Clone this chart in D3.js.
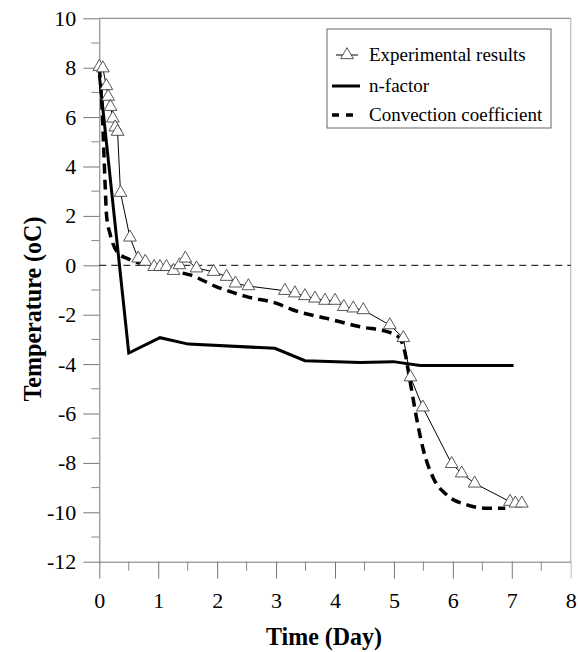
<!DOCTYPE html>
<html>
<head>
<meta charset="utf-8">
<script src="https://cdn.jsdelivr.net/npm/d3@7"></script>
<style>
  body { margin: 0; background: #fff; }
  text { font-family: "Liberation Serif", "Times New Roman", serif; fill: #000; }
</style>
</head>
<body>
<div id="chart"></div>
<script>
// data: day, temperature
var expDays  = [0, 0.06, 0.12, 0.15, 0.19, 0.23, 0.27, 0.31, 0.36, 0.52, 0.66, 0.78, 0.93, 1.03, 1.14, 1.26, 1.36, 1.46,
                1.65, 1.94, 2.16, 2.31, 2.53, 3.15, 3.32, 3.49, 3.66, 3.83, 4.0, 4.15, 4.31, 4.48, 4.93, 5.16, 5.28,
                5.49, 5.98, 6.15, 6.37, 6.97, 7.06, 7.17];
var expTemps = [8.04, 7.98, 7.26, 6.83, 6.42, 5.95, 5.59, 5.41, 2.94, 1.13, 0.28, 0.15, -0.06, -0.06, -0.06, -0.22, 0.01, 0.28,
                -0.12, -0.26, -0.46, -0.73, -0.84, -1.03, -1.13, -1.24, -1.34, -1.43, -1.43, -1.68, -1.74, -1.81, -2.42, -2.94, -4.53,
                -5.75, -8.04, -8.42, -8.83, -9.57, -9.64, -9.64];

var nfDays  = [0, 0.5, 1.03, 1.51, 2.98, 3.49, 4.43, 4.99, 5.44, 7.03];
var nfTemps = [7.7, -3.55, -2.93, -3.19, -3.36, -3.86, -3.94, -3.9, -4.06, -4.06];

var ccDays  = [0, 0.04, 0.07, 0.1, 0.125, 0.18, 0.32, 0.47, 0.69, 1.03, 1.31, 1.54, 1.99, 2.5, 3.01, 3.29, 3.86, 4.43,
               4.94, 5.1, 5.19, 5.25, 5.3, 5.39, 5.5, 5.67, 5.9, 6.24, 6.58, 6.89];
var ccTemps = [8.0, 6.7, 5.07, 3.18, 1.97, 1.3, 0.49, 0.28, 0.08, -0.06, -0.26, -0.39, -0.87, -1.27, -1.54, -1.81, -2.15, -2.49,
               -2.73, -2.96, -3.56, -4.37, -5.05, -6.26, -7.48, -8.62, -9.3, -9.7, -9.84, -9.84];

var xTicks = [0, 1, 2, 3, 4, 5, 6, 7, 8];
var yTicks = [-12, -10, -8, -6, -4, -2, 0, 2, 4, 6, 8, 10];
var legendLabels = ["Experimental results", "n-factor", "Convection coefficient"];

function zip(a, b) { return a.map(function(d, i) { return [d, b[i]]; }); }
var expData = zip(expDays, expTemps),
    nfData = zip(nfDays, nfTemps),
    ccData = zip(ccDays, ccTemps);

var margin = {top: 18.3, right: 7.3, bottom: 90.3, left: 99.3},
    width = 578 - margin.left - margin.right,
    height = 652 - margin.top - margin.bottom;

var svg = d3.select("#chart")
  .append("svg")
    .attr("width", 578)
    .attr("height", 652)
  .append("g")
    .attr("transform", "translate(" + margin.left + "," + margin.top + ")");

var x = d3.scaleLinear().domain([0, 8]).range([0, width]);
var y = d3.scaleLinear().domain([-12, 10]).range([height, 0]);

// frame (top and right)
svg.append("line").attr("x1", 0).attr("x2", width).attr("y1", 0).attr("y2", 0)
  .attr("stroke", "#777").attr("stroke-width", 1);
svg.append("line").attr("x1", width).attr("x2", width).attr("y1", 0).attr("y2", height)
  .attr("stroke", "#bbb").attr("stroke-width", 1.2);

// minor ticks
svg.append("g").selectAll("line")
  .data(d3.range(-11, 10, 2))
  .enter().append("line")
    .attr("x1", -8).attr("x2", 0)
    .attr("y1", function(d) { return y(d); }).attr("y2", function(d) { return y(d); })
    .attr("stroke", "#888");
svg.append("g").selectAll("line")
  .data(d3.range(0.5, 8, 1))
  .enter().append("line")
    .attr("x1", function(d) { return x(d); }).attr("x2", function(d) { return x(d); })
    .attr("y1", height).attr("y2", height + 9)
    .attr("stroke", "#888");

// axes
var fmt = function(d) { return String(d); };
var xAxis = svg.append("g")
  .attr("transform", "translate(0," + height + ")")
  .call(d3.axisBottom(x).tickValues(xTicks).tickFormat(fmt).tickSize(17).tickPadding(14).tickSizeOuter(0));
var yAxis = svg.append("g")
  .call(d3.axisLeft(y).tickValues(yTicks).tickFormat(fmt).tickSize(16).tickPadding(7).tickSizeOuter(0));
[xAxis, yAxis].forEach(function(a) {
  a.select(".domain").attr("stroke", "#777");
  a.selectAll(".tick line").attr("stroke", "#777");
  a.selectAll("text").attr("font-size", 22).attr("fill", "#000");
});
xAxis.selectAll(".tick").filter(function(d) { return d === 8; }).select("line").attr("stroke", "#bbb");

// zero line
svg.append("line")
  .attr("x1", x(0)).attr("x2", x(8))
  .attr("y1", y(0)).attr("y2", y(0))
  .attr("stroke", "#000").attr("stroke-width", 1)
  .attr("stroke-dasharray", "7,5");

var line = d3.line()
  .x(function(d) { return x(d[0]); })
  .y(function(d) { return y(d[1]); });

// n-factor
svg.append("path").datum(nfData)
  .attr("fill", "none").attr("stroke", "#000").attr("stroke-width", 3)
  .attr("d", line);

// convection coefficient
svg.append("path").datum(ccData)
  .attr("fill", "none").attr("stroke", "#000").attr("stroke-width", 3.5)
  .attr("stroke-dasharray", "10,6")
  .attr("d", line.curve(d3.curveMonotoneX));
line.curve(d3.curveLinear);

// experimental
svg.append("path").datum(expData)
  .attr("fill", "none").attr("stroke", "#000").attr("stroke-width", 1)
  .attr("d", line);

var tri = d3.symbol().type(d3.symbolTriangle).size(70);
svg.append("g").selectAll("path")
  .data(expData)
  .enter().append("path")
    .attr("d", tri)
    .attr("transform", function(d) { return "translate(" + x(d[0]) + "," + y(d[1]) + ")"; })
    .attr("fill", "#fff").attr("stroke", "#444").attr("stroke-width", 0.9);

// legend
var lg = svg.append("g").attr("transform", "translate(" + (327 - margin.left) + "," + (29 - margin.top) + ")");
lg.append("rect").attr("width", 224).attr("height", 99)
  .attr("fill", "#fff").attr("stroke", "#666").attr("stroke-width", 1);
var rowY = [26, 57, 86];
lg.append("line").attr("x1", 9).attr("x2", 31).attr("y1", rowY[0]).attr("y2", rowY[0])
  .attr("stroke", "#000").attr("stroke-width", 1);
lg.append("path").attr("d", tri).attr("transform", "translate(20," + rowY[0] + ")")
  .attr("fill", "#fff").attr("stroke", "#444").attr("stroke-width", 0.9);
lg.append("line").attr("x1", 5).attr("x2", 33).attr("y1", rowY[1]).attr("y2", rowY[1])
  .attr("stroke", "#000").attr("stroke-width", 3);
lg.append("line").attr("x1", 5).attr("x2", 33).attr("y1", rowY[2]).attr("y2", rowY[2])
  .attr("stroke", "#000").attr("stroke-width", 3.5).attr("stroke-dasharray", "7,7");
lg.selectAll("text.lab")
  .data(legendLabels)
  .enter().append("text")
    .attr("class", "lab")
    .attr("x", 42)
    .attr("y", function(d, i) { return rowY[i]; })
    .attr("dy", "0.32em")
    .attr("font-size", 19)
    .text(function(d) { return d; });

// axis titles
svg.append("text")
  .attr("x", 324 - margin.left).attr("y", 645 - margin.top)
  .attr("text-anchor", "middle")
  .attr("font-size", 25).attr("font-weight", "bold")
  .attr("textLength", 116).attr("lengthAdjust", "spacingAndGlyphs")
  .text("Time (Day)");
svg.append("text")
  .attr("transform", "translate(" + (41 - margin.left) + "," + (309 - margin.top) + ") rotate(-90)")
  .attr("text-anchor", "middle")
  .attr("font-size", 25).attr("font-weight", "bold")
  .attr("textLength", 185).attr("lengthAdjust", "spacingAndGlyphs")
  .text("Temperature (oC)");
</script>
</body>
</html>
